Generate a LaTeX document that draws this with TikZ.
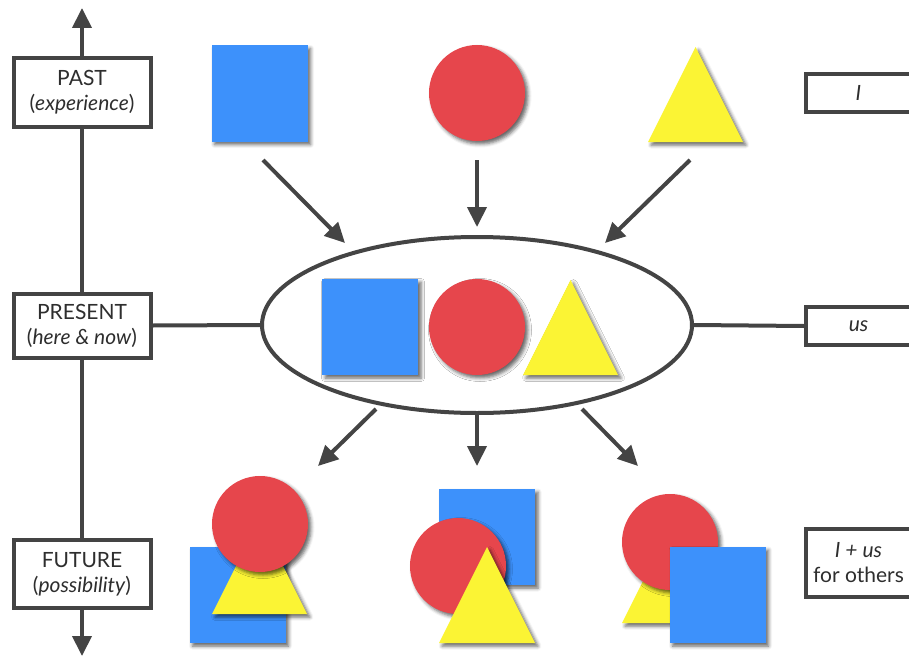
\documentclass[tikz,border=0pt]{standalone}
\usepackage{fontspec}
\setmainfont{Lato}
\usetikzlibrary{arrows.meta,shapes.geometric,shadows.blur}
\definecolor{sqblue}{HTML}{3D91FB}
\definecolor{cred}{HTML}{E6464C}
\definecolor{tyellow}{HTML}{FBF434}
\definecolor{lgray}{HTML}{444444}
\definecolor{tgray}{HTML}{2E2E2E}
\tikzset{
  shd/.style={blur shadow={shadow xshift=3pt,shadow yshift=-3pt,shadow blur radius=3.5pt,shadow opacity=60}},
  sq/.style={rectangle,fill=sqblue,minimum size=96pt,inner sep=0pt,shd},
  circ/.style={circle,fill=cred,minimum size=96pt,inner sep=0pt,shd},
  tri/.style={fill=tyellow,shd},
  lbl/.style={draw=lgray,line width=4pt,fill=white,text=tgray,align=center,inner sep=0pt,
    font=\fontsize{21}{25}\selectfont},
  conn/.style={draw=lgray,line width=4pt},
  arr/.style={conn,-{Triangle[length=20pt,width=19pt]}},
}
\begin{document}
\begin{tikzpicture}[x=1pt,y=-1pt]
\useasboundingbox (0,0) rectangle (909,658);
\clip (0,0) rectangle (909,658);
% left axis labels
\node[lbl,minimum width=137pt,minimum height=68pt] (past) at (82,92.5) {PAST\\(\textit{experience})};
\node[lbl,minimum width=137pt,minimum height=64pt] (present) at (82,325.5) {PRESENT\\(\textit{here \& now})};
\node[lbl,minimum width=137pt,minimum height=68pt] (future) at (82,574) {FUTURE\\(\textit{possibility})};
\coordinate (toptip) at (82,8);
\coordinate (bottip) at (82,656);
\draw[arr] (past.north) -- (toptip);
\draw[conn] (past.south) -- (present.north);
\draw[conn] (present.south) -- (future.north);
\draw[arr] (future.south) -- (bottip);
% right labels
\node[lbl,minimum width=105pt,minimum height=38pt] (ilab) at (858.5,93) {\textit{I}};
\node[lbl,minimum width=105pt,minimum height=38pt] (uslab) at (858.5,326) {\textit{us}};
\node[lbl,minimum width=105pt,minimum height=68pt] (iuslab) at (858.5,563) {\textit{I + us}\\for others};
% top shapes
\node[sq] (tsq) at (259.5,93.5) {};
\node[circ] (tci) at (477,93) {};
\path[tri] (648,142) -- ++(47.5,-95) -- ++(47.5,95) -- cycle;
% ellipse
\node[ellipse,draw=lgray,line width=4pt,fill=white,minimum width=430pt,minimum height=176pt,inner sep=0pt] (ell) at (477,325) {};
\draw[conn] (present.east) -- (ell.west);
\draw[conn] (ell.east) -- (uslab.west);
\node[sq] (esq) at (370,327) {};
\node[circ] (eci) at (477,327) {};
\path[tri] (523,375) -- ++(47.5,-95) -- ++(47.5,95) -- cycle;
% arrows in
\coordinate (a1s) at (263,160); \coordinate (a1e) at (345,243);
\coordinate (a2s) at (477,160); \coordinate (a2e) at (477,227);
\coordinate (a3s) at (690,160); \coordinate (a3e) at (605,243);
\draw[arr] (a1s) -- (a1e);
\draw[arr] (a2s) -- (a2e);
\draw[arr] (a3s) -- (a3e);
% arrows out
\coordinate (b1s) at (376,409); \coordinate (b1e) at (318,466);
\coordinate (b2s) at (477,413); \coordinate (b2e) at (477,466);
\coordinate (b3s) at (582,409); \coordinate (b3e) at (638,466);
\draw[arr] (b1s) -- (b1e);
\draw[arr] (b2s) -- (b2e);
\draw[arr] (b3s) -- (b3e);
% bottom left group
\node[sq] (blsq) at (237.5,595) {};
\path[tri] (212,614) -- ++(47.5,-95) -- ++(47.5,95) -- cycle;
\node[circ] (blci) at (260,524) {};
% bottom middle group
\node[sq] (bmsq) at (487,537) {};
\node[circ] (bmci) at (458,566) {};
\path[tri] (439,643) -- ++(48,-96) -- ++(48,96) -- cycle;
% bottom right group
\path[tri] (622,623) -- ++(48,-96) -- ++(48,96) -- cycle;
\node[circ] (brci) at (670,542) {};
\node[sq] (brsq) at (717.5,595) {};
\end{tikzpicture}
\end{document}
